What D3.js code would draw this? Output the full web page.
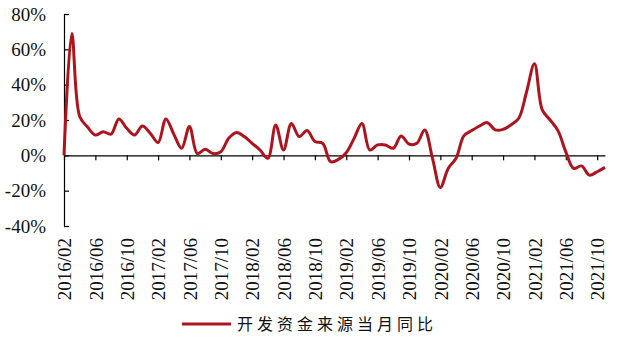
<!DOCTYPE html>
<html>
<head>
<meta charset="utf-8">
<script src="https://cdn.jsdelivr.net/npm/d3@7"></script>
<style>
  body { margin: 0; background: #fff; }
  svg { display: block; }
  .tick text { font-family: "Liberation Serif", "Times New Roman", serif; font-size: 19px; fill: #111; }
</style>
</head>
<body>
<div id="chart"></div>
<script>
// monthly categories, 2016/02 .. 2021/11
const months = d3.utcMonth.range(new Date(Date.UTC(2016, 1, 1)), new Date(Date.UTC(2021, 11, 1)))
  .map(d3.utcFormat("%Y/%m"));

// 开发资金来源当月同比 (%)
const values = [
  0, 69, 22, 16, 11.5, 13.4, 12, 20.6, 15.3, 11.5,
  16.6, 12.5, 7.2, 20.6, 12, 4, 16.3, 1, 3.4, 1,
  2, 9.6, 12.9, 10.6, 6.8, 3, -1.7, 17.2, 3, 18,
  10.6, 14, 7.8, 6.8, -3.6, -2.3, 1.5, 9.6, 18, 3,
  5.9, 5.9, 4, 11, 6.4, 6.8, 14.4, -1.7, -18.2, -7.4,
  -1.7, 11, 14, 16.6, 18.5, 14.4, 14.7, 17.2, 21, 36,
  51.8, 25.7, 20, 14, 2, -7.4, -6, -11.2, -9.3, -6.8
];

const yTicks = [-40, -20, 0, 20, 40, 60, 80];
const seriesName = "开发资金来源当月同比";

const width = 617;
const height = 340;
const margin = { top: 14, right: 12, bottom: 114, left: 64 };
const lineColor = "#ad141d";

const svg = d3.select("#chart")
  .append("svg")
  .attr("width", width)
  .attr("height", height);

const x = d3.scalePoint()
  .domain(months)
  .range([margin.left, width - margin.right]);

const y = d3.scaleLinear()
  .domain([-40, 80])
  .range([height - margin.bottom, margin.top]);

// y axis, ticks pointing inward
svg.append("g")
  .attr("transform", `translate(${margin.left},0)`)
  .call(d3.axisLeft(y).tickValues(yTicks).tickFormat(d => d + "%")
    .tickSizeInner(-5).tickSizeOuter(0).tickPadding(18))
  .call(g => g.selectAll("path, line").attr("stroke", "#000").attr("stroke-width", 1.2));

// x axis on the zero line, labels at the bottom
const xAxis = svg.append("g")
  .attr("transform", `translate(0,${y(0)})`)
  .call(d3.axisBottom(x).tickValues(months.filter((d, i) => i % 4 === 0))
    .tickSizeInner(5).tickSizeOuter(0));

xAxis.selectAll("path, line").attr("stroke", "#000").attr("stroke-width", 1.2);
xAxis.selectAll("text")
  .attr("x", 0)
  .attr("y", 0)
  .attr("dy", "0.35em")
  .attr("text-anchor", "end")
  .attr("transform", `translate(0,${238 - y(0)}) rotate(-90)`);

const line = d3.line()
  .x((d, i) => x(months[i]))
  .y(d => y(d))
  .curve(d3.curveCatmullRom.alpha(0.5));

svg.append("path")
  .datum(values)
  .attr("fill", "none")
  .attr("stroke", lineColor)
  .attr("stroke-width", 3)
  .attr("stroke-linejoin", "round")
  .attr("d", line);

// legend
const legend = svg.append("g").attr("transform", "translate(182,324)");
legend.append("line")
  .attr("x1", 0).attr("x2", 49)
  .attr("stroke", lineColor)
  .attr("stroke-width", 3);
legend.append("text")
  .attr("x", 55)
  .attr("dy", "0.35em")
  .attr("font-family", "'Noto Sans CJK SC', sans-serif")
  .attr("font-size", 16)
  .attr("letter-spacing", 4)
  .attr("fill", "#111")
  .text(seriesName);
</script>
</body>
</html>
